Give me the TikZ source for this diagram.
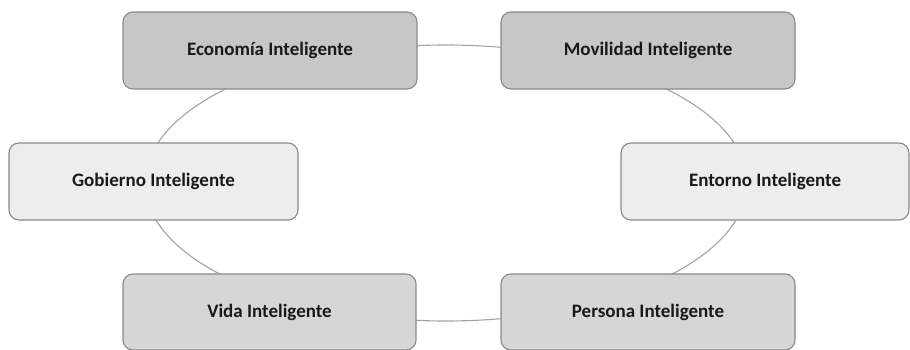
\documentclass[tikz,border=0pt]{standalone}
\usepackage{fontspec}
\setmainfont{Carlito}
\begin{document}
\begin{tikzpicture}[x=1pt,y=1pt,
  card/.style={draw=cardline, line width=1.1pt, rounded corners=10pt,
    font=\bfseries\fontsize{19}{22}\selectfont, text=black!90},
  dark/.style={card, fill=cardDark},
  mid/.style={card, fill=cardMid},
  light/.style={card, fill=cardLight},
  ring/.style={draw=ringline, line width=1.1pt}]
\definecolor{cardline}{HTML}{8A8A8A}
\definecolor{ringline}{HTML}{A3A3A3}
\definecolor{cardDark}{HTML}{C7C7C7}
\definecolor{cardMid}{HTML}{D6D6D6}
\definecolor{cardLight}{HTML}{EDEDED}
\useasboundingbox (0,0) rectangle (910,349);
\fill[white] (0,0) rectangle (910,349);

% cycle linking the six areas
\coordinate (hub) at (446,166);
\draw[ring] (hub) ellipse [x radius=301, y radius=138];

% the six areas
\node[dark, minimum width=294pt, minimum height=77pt] (eco) at (270,298.5) {Economía Inteligente};
\node[dark, minimum width=294pt, minimum height=77pt] (mov) at (648,298.5) {Movilidad Inteligente};
\node[light, minimum width=289pt, minimum height=77pt] (gob) at (153.5,167.5) {Gobierno Inteligente};
\node[light, minimum width=288pt, minimum height=77pt] (ent) at (765,167.5) {Entorno Inteligente};
\node[mid, minimum width=293pt, minimum height=76pt] (vid) at (269.5,37) {Vida Inteligente};
\node[mid, minimum width=294pt, minimum height=76pt] (per) at (648,37) {Persona Inteligente};
\end{tikzpicture}
\end{document}
